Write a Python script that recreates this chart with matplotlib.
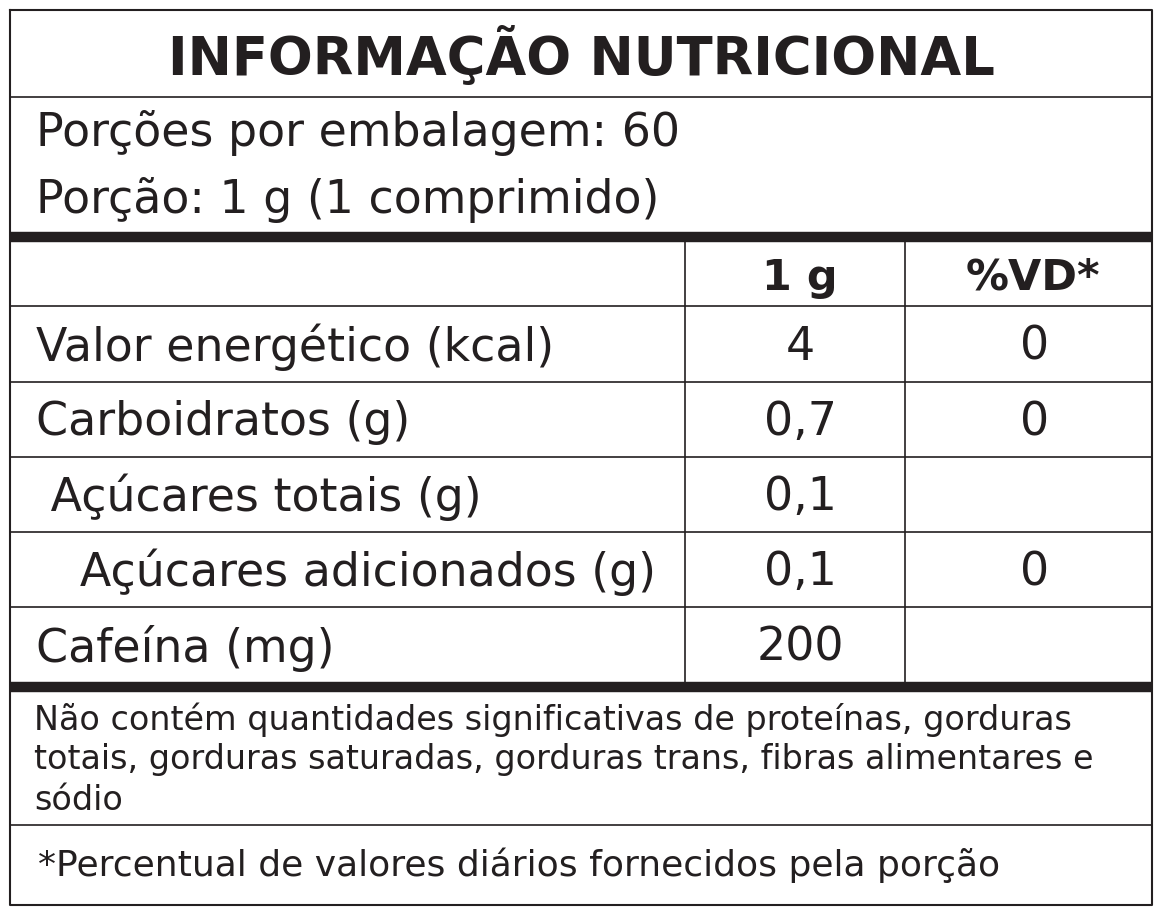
import matplotlib
matplotlib.use("Agg")
import matplotlib.pyplot as plt

title = "INFORMAÇÃO NUTRICIONAL"
servings = ["Porções por embalagem: 60", "Porção: 1 g (1 comprimido)"]
col_headers = ["1 g", "%VD*"]
nutrients = ["Valor energético (kcal)", "Carboidratos (g)", " Açúcares totais (g)",
             "   Açúcares adicionados (g)", "Cafeína (mg)"]
amounts = ["4", "0,7", "0,1", "0,1", "200"]
vd = ["0", "0", "", "0", ""]
footnote = ["Não contém quantidades significativas de proteínas, gorduras",
            "totais, gorduras saturadas, gorduras trans, fibras alimentares e",
            "sódio"]
footer = "*Percentual de valores diários fornecidos pela porção"

C = "#231f20"
plt.rcParams['font.family'] = ['DejaVu Sans']
fig = plt.figure(figsize=(11.62, 9.14), dpi=100)
ax = fig.add_axes([0, 0, 1, 1])
ax.set_xlim(0, 1162); ax.set_ylim(914, 0); ax.axis('off')

L, R, T, B = 10, 1152, 10, 905
ax.plot([L, R, R, L, L], [T, T, B, B, T], color=C, lw=1.5)
ax.text(581, 56, title, ha='center', va='center', fontsize=38, fontweight='bold', color=C)
ax.plot([L, R], [97, 97], color=C, lw=1.2)
ax.text(36, 133, servings[0], ha='left', va='center', fontsize=33, color=C)
ax.text(36, 200, servings[1], ha='left', va='center', fontsize=33, color=C)
ax.plot([L, R], [237, 237], color=C, lw=7.5, solid_capstyle='butt')

c1, c2 = 685, 905
rows_y = [242, 306, 382, 457, 532, 607, 683]
ax.plot([c1, c1], [242, 683], color=C, lw=1.2)
ax.plot([c2, c2], [242, 683], color=C, lw=1.2)
for y in rows_y[1:-1]:
    ax.plot([L, R], [y, y], color=C, lw=1.2)
ax.text(800, 278, col_headers[0], ha='center', va='center', fontsize=31, fontweight='bold', color=C)
ax.text(1033, 278, col_headers[1], ha='center', va='center', fontsize=31, fontweight='bold', color=C)
for i, (n, a, v) in enumerate(zip(nutrients, amounts, vd)):
    yc = (rows_y[i + 1] + rows_y[i + 2]) / 2 + 3
    ax.text(36, yc, n, ha='left', va='center', fontsize=33, color=C)
    ax.text(800, yc, a, ha='center', va='center', fontsize=33, color=C)
    ax.text(1035, yc, v, ha='center', va='center', fontsize=33, color=C)
ax.plot([L, R], [687, 687], color=C, lw=7.5, solid_capstyle='butt')

for i, line in enumerate(footnote):
    ax.text(34, 720 + 40 * i, line, ha='left', va='center', fontsize=24, color=C)
ax.plot([L, R], [825, 825], color=C, lw=1.2)
ax.text(38, 865, footer, ha='left', va='center', fontsize=26, color=C)

fig.savefig("out.png", dpi=100, facecolor='white')
